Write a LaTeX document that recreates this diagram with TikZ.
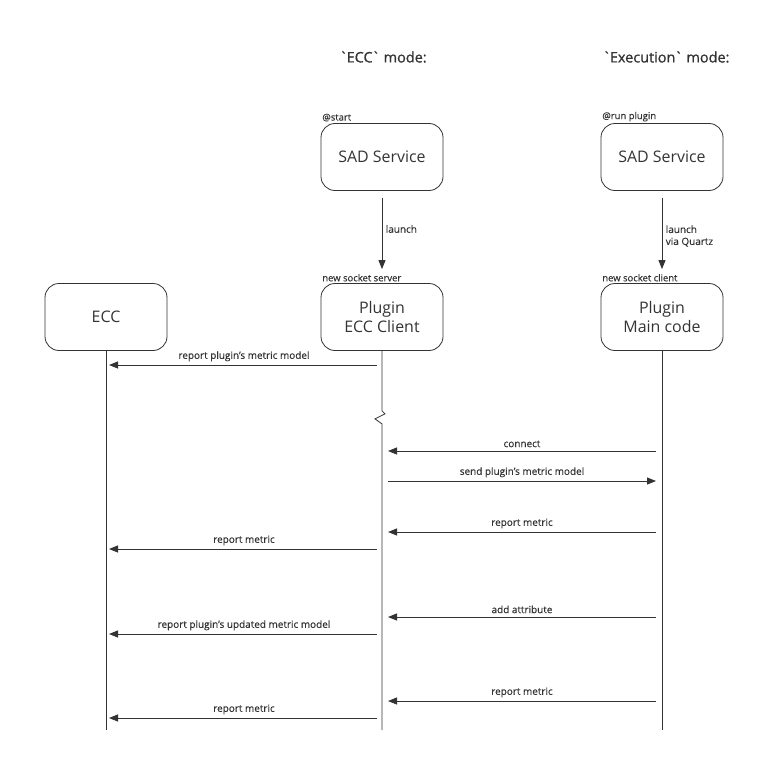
\documentclass[tikz,border=0pt]{standalone}
\usepackage{fontspec}
\setmainfont{Open Sans}
\newfontfamily\hdrfont{Open Sans}[FakeBold=0.9]
\newfontfamily\lblfont{Open Sans}[FakeBold=0.4]
\usepackage{tikz}
\usetikzlibrary{arrows.meta,positioning,calc}
\definecolor{linegray}{HTML}{333333}

\begin{document}
\begin{tikzpicture}[x=1bp, y=-1bp,
    every node/.style={text=linegray},
    box/.style={draw=linegray, line width=0.8bp, rounded corners=14bp, minimum width=122bp, minimum height=67bp, align=center, font=\fontsize{16}{19}\selectfont},
    hdr/.style={font=\hdrfont\fontsize{14.5}{17}\selectfont},
    tag/.style={anchor=south west, inner sep=1.5bp, font=\lblfont\fontsize{9.5}{11}\selectfont},
    lbl/.style={font=\lblfont\fontsize{10}{12}\selectfont},
    life/.style={draw=linegray, line width=0.8bp},
    msg/.style={draw=linegray, line width=0.9bp, -{Triangle[length=9bp,width=7bp]}}]
    \useasboundingbox (0,0) rectangle (780,780);

    % Headers
    \node[hdr] (hecc) at (383,57) {\textasciigrave\kern-1bp ECC\kern-1bp\textasciigrave{} mode:};
    \node[hdr] (hexe) at (666,57) {\textasciigrave\kern-1bp Execution\kern-1bp\textasciigrave{} mode:};

    % Services
    \node[box] (sad1) at (382,157) {SAD Service};
    \node[box] (sad2) at (662,157) {SAD Service};
    \node[tag] at (sad1.north west) {@start};
    \node[tag] at (sad2.north west) {@run plugin};

    % Participants
    \node[box] (ecc) at (106,317) {ECC};
    \node[box] (cli) at (382,317) {Plugin\\ECC Client};
    \node[box] (main) at (662,317) {Plugin\\Main code};
    \node[tag] at (cli.north west) {new socket server};
    \node[tag] at (main.north west) {new socket client};

    % Launch
    \draw[msg, shorten <=7bp, shorten >=14bp] (sad1) -- (cli)
        node[lbl, midway, right, yshift=8bp] {launch};
    \draw[msg, shorten <=7bp, shorten >=14bp] (sad2) -- (main)
        node[lbl, midway, right, align=left, yshift=1bp] {launch\\via Quartz};

    % Lifelines
    \coordinate (eccend) at (106,730);
    \coordinate (cliend) at (382,730);
    \coordinate (mainend) at (662,730);
    \draw[life] (ecc) -- (eccend);
    \draw[life] (cli) -- ($(cli.south)+(0,60)$) -- ++(3,3) -- ++(-10,5) -- ++(7,5) -- (cliend);
    \draw[life] (main) -- (mainend);

    % Messages
    \draw[msg, shorten <=5bp, shorten >=3bp] (cli |- 0,365) -- (ecc |- 0,365)
        node[lbl, midway, above] {report plugin’s metric model};
    \draw[msg, shorten <=6bp, shorten >=6bp] (main |- 0,451) -- (cli |- 0,451)
        node[lbl, midway, above] {connect};
    \draw[msg, shorten <=6bp, shorten >=6bp] (cli |- 0,481) -- (main |- 0,481)
        node[lbl, midway, above] {send plugin’s metric model};
    \draw[msg, shorten <=6bp, shorten >=6bp] (main |- 0,532) -- (cli |- 0,532)
        node[lbl, midway, above] {report metric};
    \draw[msg, shorten <=5bp, shorten >=3bp] (cli |- 0,549) -- (ecc |- 0,549)
        node[lbl, midway, above] {report metric};
    \draw[msg, shorten <=6bp, shorten >=6bp] (main |- 0,617) -- (cli |- 0,617)
        node[lbl, midway, above] {add attribute};
    \draw[msg, shorten <=5bp, shorten >=3bp] (cli |- 0,634) -- (ecc |- 0,634)
        node[lbl, midway, above] {report plugin’s updated metric model};
    \draw[msg, shorten <=6bp, shorten >=6bp] (main |- 0,701) -- (cli |- 0,701)
        node[lbl, midway, above] {report metric};
    \draw[msg, shorten <=5bp, shorten >=3bp] (cli |- 0,718) -- (ecc |- 0,718)
        node[lbl, midway, above] {report metric};
\end{tikzpicture}
\end{document}
